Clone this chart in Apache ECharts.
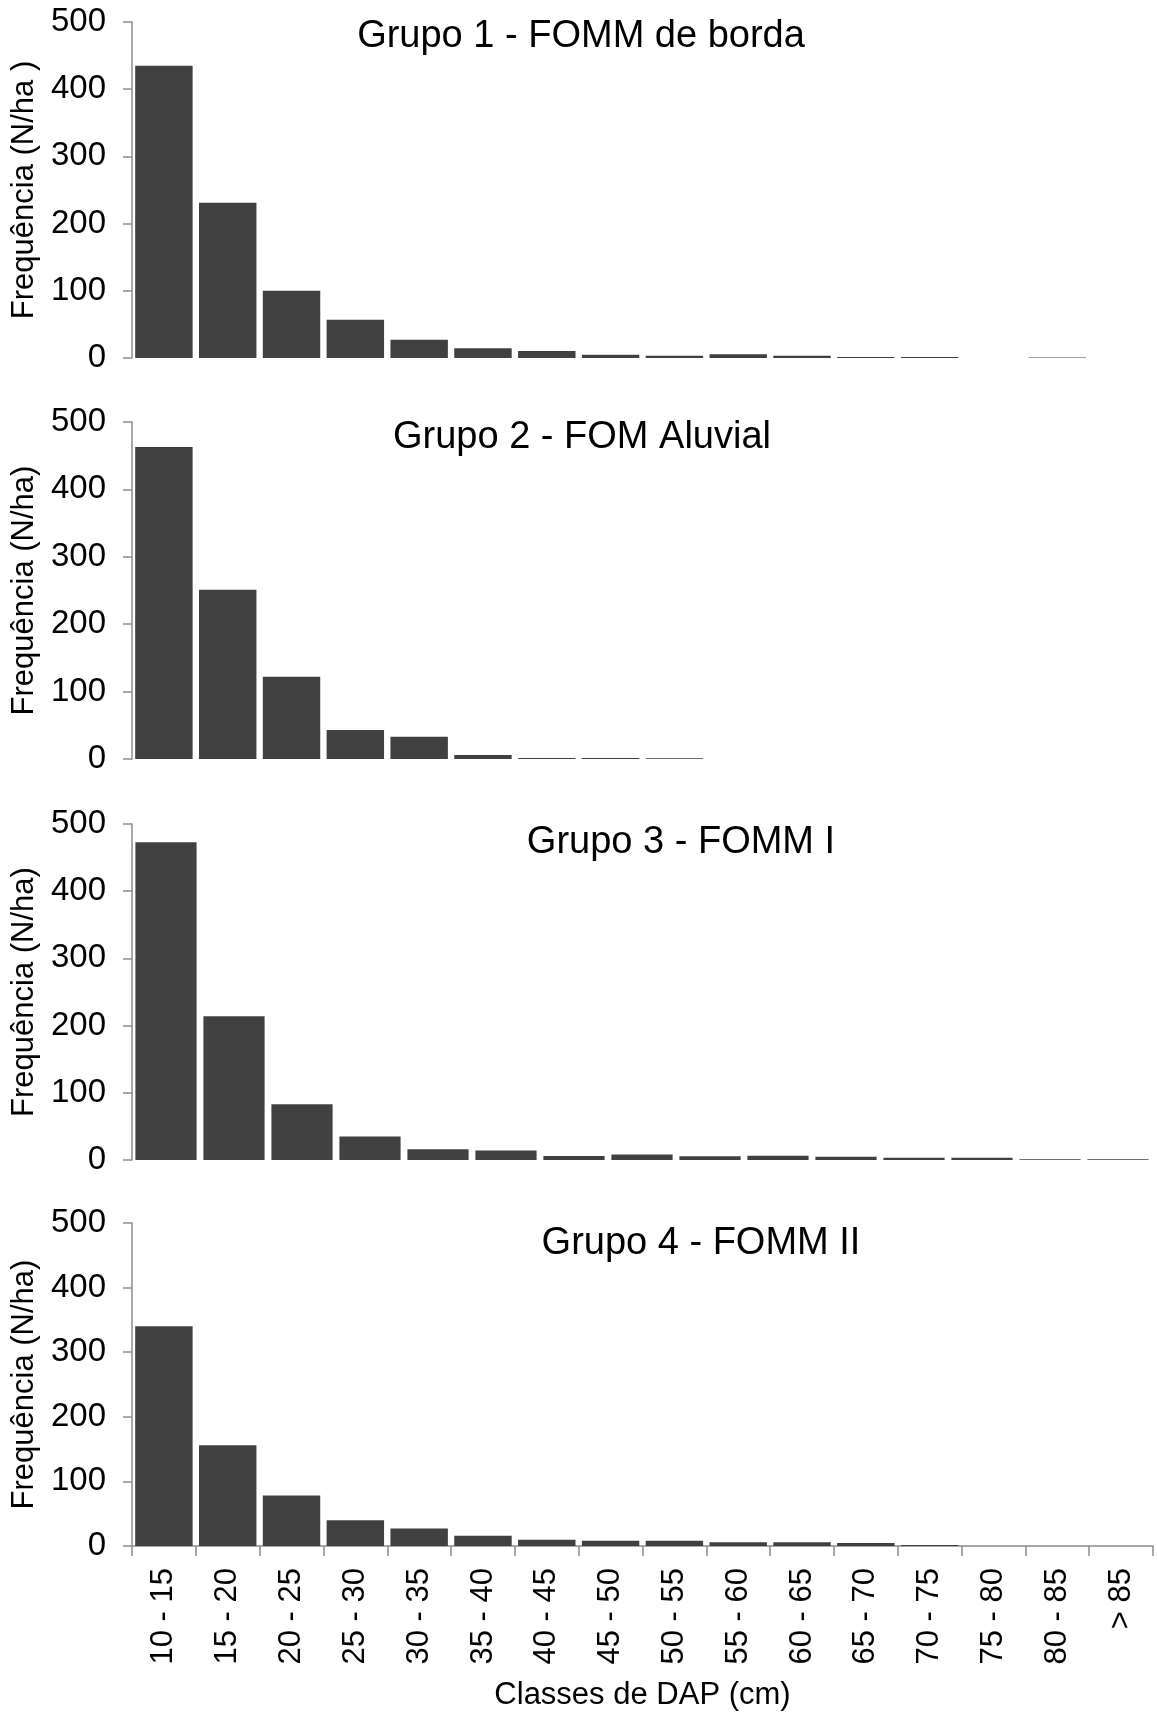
<!DOCTYPE html>
<html>
<head>
<meta charset="utf-8">
<title>Distribuição diamétrica por grupo</title>
<script src="https://cdn.jsdelivr.net/npm/echarts@6/dist/echarts.min.js"></script>
<style>
  html, body { margin: 0; padding: 0; background: #ffffff; }
  #chart { width: 1157px; height: 1712px; }
</style>
</head>
<body>
<div id="chart"></div>
<script>
// Diameter classes (DAP, cm)
const classes = ['10 - 15', '15 - 20', '20 - 25', '25 - 30', '30 - 35', '35 - 40', '40 - 45',
  '45 - 50', '50 - 55', '55 - 60', '60 - 65', '65 - 70', '70 - 75', '75 - 80', '80 - 85', '> 85'];
// Group 3 has no "> 85" class
const classesG3 = classes.slice(0, 15);

// Frequency (N/ha) per diameter class
const grupo1 = [435, 231, 100, 57, 27, 14.5, 10.5, 5, 3.5, 5.5, 3.5, 1.5, 1.5, 0, 0.8, 0];
const grupo2 = [463, 251, 122, 43, 33, 6, 1.5, 1.5, 1, 0, 0, 0, 0, 0, 0, 0];
const grupo3 = [473, 214, 83, 35, 16, 14, 6, 8, 5.5, 6.4, 5, 3.5, 3.5, 1.2, 1.2];
const grupo4 = [340, 156, 78, 40, 27, 16, 9.5, 8, 8, 5.7, 5.7, 4.6, 1.5, 0, 0, 0];

const titles = ['Grupo 1 - FOMM de borda', 'Grupo 2 - FOM Aluvial', 'Grupo 3 - FOMM I', 'Grupo 4 - FOMM II'];
const yNames = ['Frequência (N/ha )', 'Frequência (N/ha)', 'Frequência (N/ha)', 'Frequência (N/ha)'];
const yTicks = [0, 100, 200, 300, 400, 500];
const xName = 'Classes de DAP (cm)';

const panels = [
  { cats: classes,   data: grupo1, top: 22,   height: 336, right: 4, titleX: 576, titleY: 32 },
  { cats: classes,   data: grupo2, top: 422,  height: 337, right: 4, titleX: 577, titleY: 433 },
  { cats: classesG3, data: grupo3, top: 824,  height: 336, right: 5, titleX: 676, titleY: 838 },
  { cats: classes,   data: grupo4, top: 1223, height: 324, right: 4, titleX: 696, titleY: 1239 }
];

const FONT = '"Liberation Sans", Arial, sans-serif';
const AXIS_GRAY = '#8c8c8c';
const BAR_COLOR = '#404040';

const grid = [], xAxis = [], yAxis = [], series = [], title = [];

panels.forEach((p, i) => {
  const last = i === panels.length - 1;
  grid.push({ left: 132, right: p.right, top: p.top, height: p.height, containLabel: false });
  title.push({
    text: titles[i], left: p.titleX, top: p.titleY, textAlign: 'center', textVerticalAlign: 'middle',
    textStyle: { fontFamily: FONT, fontSize: 38, fontWeight: 'normal', color: '#000' }
  });
  xAxis.push({
    type: 'category', gridIndex: i, data: p.cats,
    boundaryGap: true,
    axisLine: { show: last, lineStyle: { color: AXIS_GRAY, width: 1.5 } },
    axisTick: { show: last, length: 10, interval: 0, lineStyle: { color: AXIS_GRAY, width: 1.5 } },
    axisLabel: {
      show: last, interval: 0, rotate: 90, margin: 22,
      fontFamily: FONT, fontSize: 31, color: '#000'
    },
    name: last ? xName : '', nameLocation: 'middle', nameGap: 134,
    nameTextStyle: { fontFamily: FONT, fontSize: 31, color: '#000' }
  });
  yAxis.push({
    type: 'value', gridIndex: i, min: yTicks[0], max: yTicks[yTicks.length - 1], interval: 100,
    axisLine: { show: true, lineStyle: { color: AXIS_GRAY, width: 1.5 } },
    axisTick: { show: true, length: 9, lineStyle: { color: AXIS_GRAY, width: 1.5 } },
    splitLine: { show: false },
    axisLabel: { margin: 26, fontFamily: FONT, fontSize: 33, color: '#000' },
    name: yNames[i], nameLocation: 'middle', nameGap: 90, nameRotate: 90,
    nameTextStyle: { fontFamily: FONT, fontSize: 31, color: '#000' }
  });
  series.push({
    type: 'bar', xAxisIndex: i, yAxisIndex: i, data: p.data,
    barCategoryGap: '10%',
    itemStyle: { color: BAR_COLOR },
    silent: true, animation: false
  });
});

const chart = echarts.init(document.getElementById('chart'), null, { renderer: 'canvas' });
chart.setOption({
  backgroundColor: '#ffffff',
  animation: false,
  title, grid, xAxis, yAxis, series
});
</script>
</body>
</html>
